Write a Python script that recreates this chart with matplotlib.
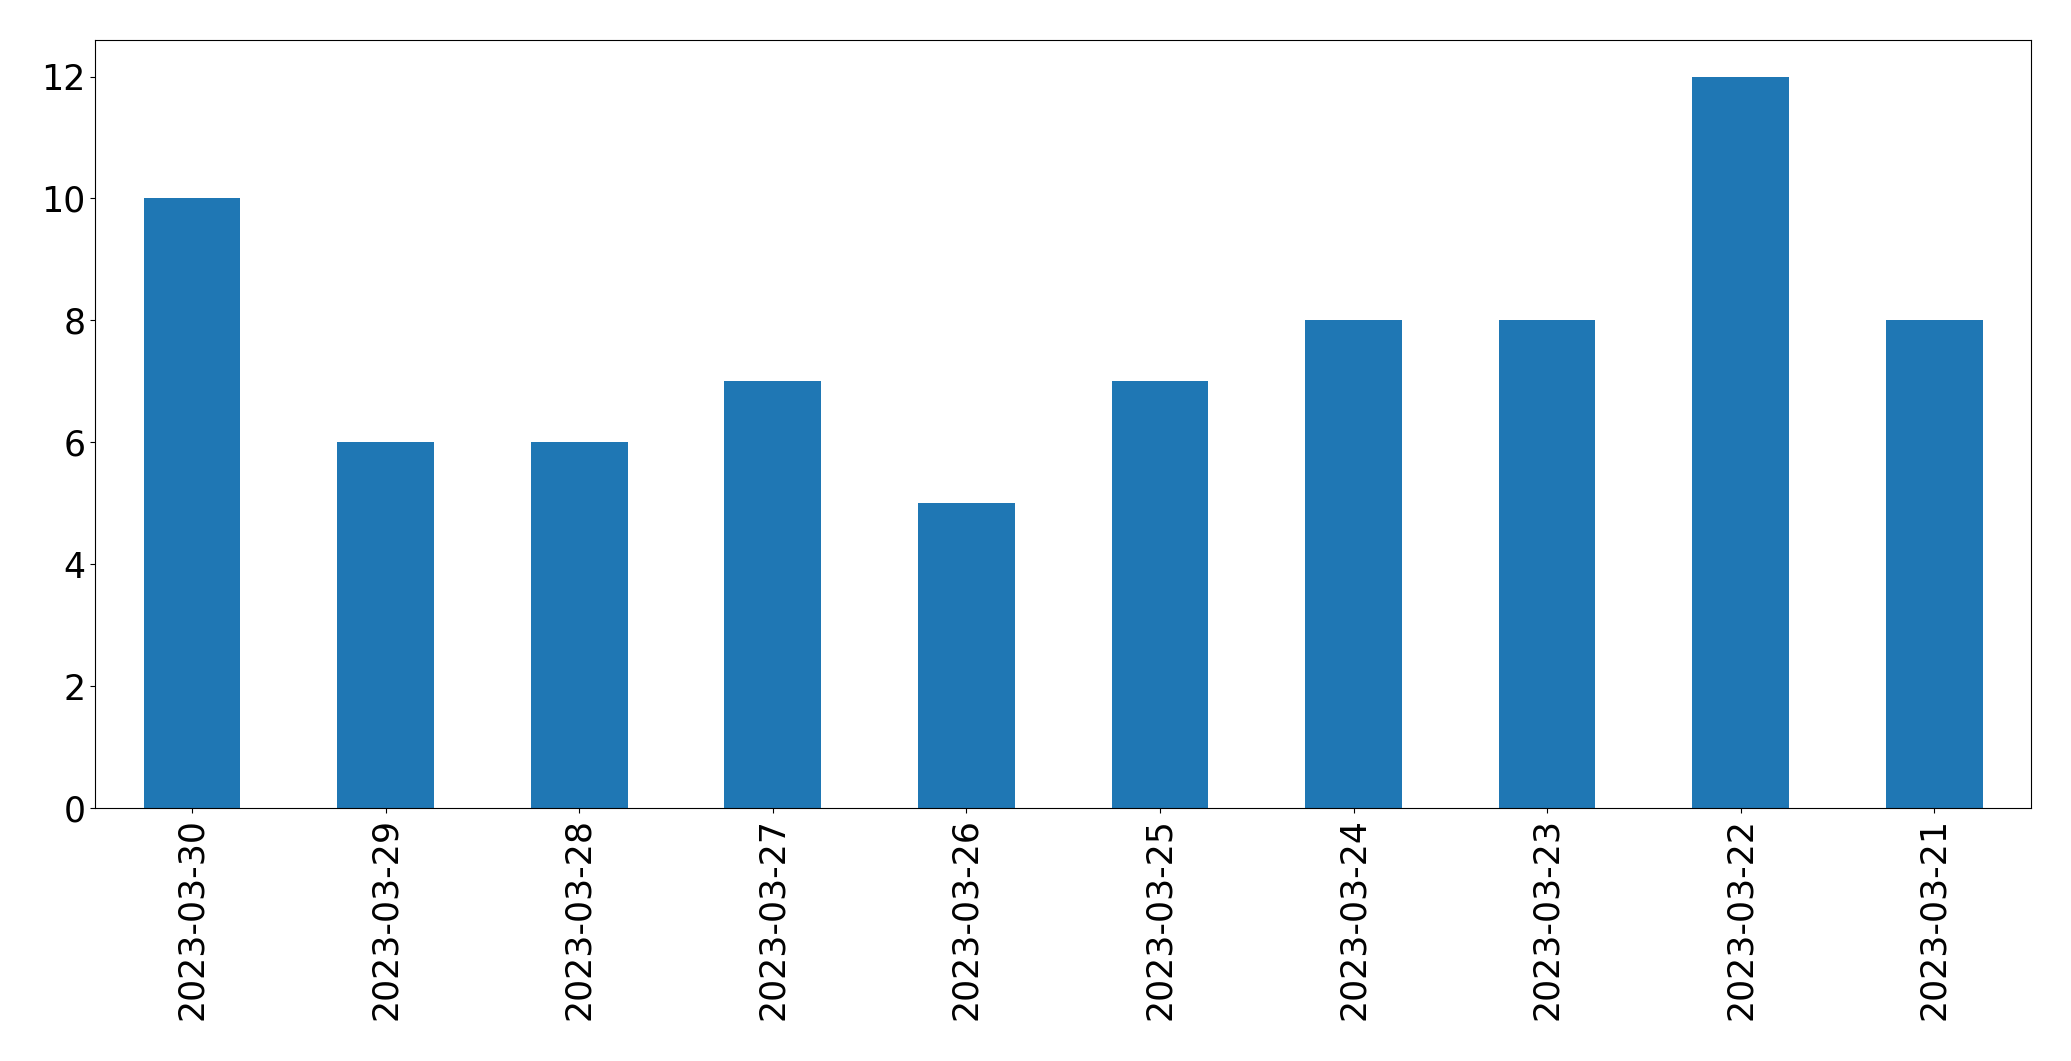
import matplotlib
matplotlib.use("Agg")
import matplotlib.pyplot as plt
import numpy as np

# dates in the order shown, newest first
dates = ["2023-03-30", "2023-03-29", "2023-03-28", "2023-03-27", "2023-03-26",
         "2023-03-25", "2023-03-24", "2023-03-23", "2023-03-22", "2023-03-21"]
counts = [10, 6, 6, 7, 5, 7, 8, 8, 12, 8]

fig, ax = plt.subplots(figsize=(20.71, 10.61), dpi=100)
x = np.arange(len(dates))
ax.bar(x, counts, width=0.5, color="#1f77b4")
ax.set_xlim(-0.5, len(dates) - 0.5)
ax.set_ylim(0, 12.6)
ax.set_xticks(x)
ax.set_xticklabels(dates, rotation=90)
ax.tick_params(labelsize=25)
fig.subplots_adjust(left=0.046, right=0.9807, top=0.9623, bottom=0.2385)
fig.savefig("out.png")
